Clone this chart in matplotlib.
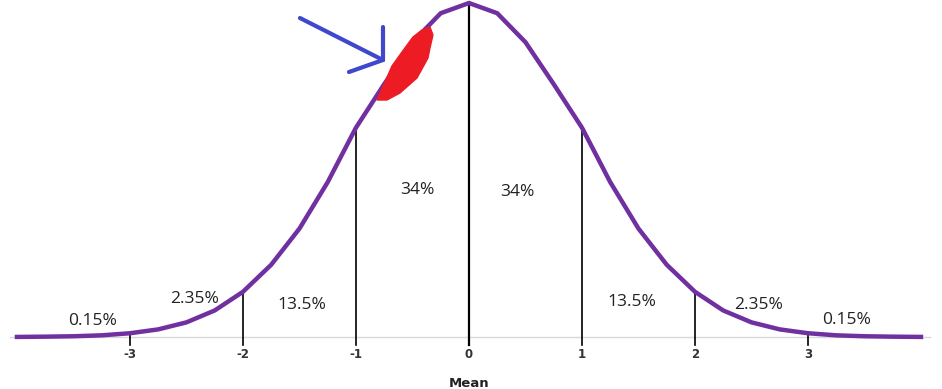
import numpy as np
import matplotlib.pyplot as plt
from matplotlib.patches import Polygon

# curve points (step 0.25 sd)
z = [-4, -3.75, -3.5, -3.25, -3, -2.75, -2.5, -2.25, -2, -1.75, -1.5, -1.25, -1,
     -0.75, -0.5, -0.25, 0, 0.25, 0.5, 0.75, 1, 1.25, 1.5, 1.75, 2,
     2.25, 2.5, 2.75, 3, 3.25, 3.5, 3.75, 4]
dens = [0.0001, 0.0004, 0.0009, 0.002, 0.0045, 0.0091, 0.0175, 0.0317, 0.054,
        0.0863, 0.1295, 0.1850, 0.250, 0.3020, 0.3521, 0.3867, 0.3989,
        0.3867, 0.3521, 0.3020, 0.250, 0.1850, 0.1295, 0.0863, 0.054,
        0.0317, 0.0175, 0.0091, 0.0045, 0.002, 0.0009, 0.0004, 0.0001]

ticks = [-3, -2, -1, 0, 1, 2, 3]
tick_labels = ['-3', '-2', '-1', '0', '1', '2', '3']

pct_labels = ['0.15%', '2.35%', '13.5%', '34%', '34%', '13.5%', '2.35%', '0.15%']
pct_x = [-3.33, -2.43, -1.48, -0.46, 0.43, 1.44, 2.56, 3.34]
pct_y = [0.0195, 0.0455, 0.0385, 0.176, 0.173, 0.042, 0.0385, 0.0205]

PURPLE = '#7030A0'
BLUE = '#3F48CC'
RED = '#ED1C24'

fig = plt.figure(figsize=(9.42, 3.89), dpi=100)
ax = fig.add_axes([0, 0, 1, 1])
ax.set_xlim(-4.15, 4.186)
ax.set_ylim(-0.0621, 0.4025)
ax.axis('off')


def px(x, y):
    # pixel position in the picture -> data coords
    return ((x - 469) / 113.0, (337 - y) / 837.3)


# light baseline
x0, _ = px(10, 0)
x1, _ = px(930, 0)
ax.plot([x0, x1], [0, 0], color='#D9D9D9', lw=1, zorder=1)

# vertical lines from the curve down
for t in ticks:
    h = dens[z.index(t)]
    ax.plot([t, t], [-0.0096, h], color='black', lw=1.6 if t == 0 else 1.2, zorder=2)

ax.plot(z, dens, color=PURPLE, lw=3.2, solid_joinstyle='miter', zorder=3)

for t, lab in zip(ticks, tick_labels):
    ax.text(t, -0.021, lab, ha='center', va='center', fontsize=8.5,
            fontweight='bold', color='#333333', family='DejaVu Sans')

for xx, yy, lab in zip(pct_x, pct_y, pct_labels):
    ax.text(xx, yy, lab, ha='center', va='center', fontsize=12.5,
            color='#222222', family='Open Sans')

ax.text(0, px(0, 377)[1], 'Mean', ha='center', va='top', fontsize=9.5,
        fontweight='bold', color='#222222')

# hand drawn arrow
tail = px(300, 18)
tip = px(383, 60)
h1 = px(383, 27)
h2 = px(349, 72)
for a, b in [(tail, tip), (h1, tip), (h2, tip)]:
    ax.plot([a[0], b[0]], [a[1], b[1]], color=BLUE, lw=3, solid_capstyle='round', zorder=5)

# red scribble
scribble = [px(377, 100), px(385, 82), px(392, 66), px(402, 52), px(413, 37),
            px(422, 30), px(430, 27), px(433, 35), px(430, 48), px(428, 58),
            px(417, 78), px(400, 93), px(387, 100)]
ax.add_patch(Polygon(scribble, closed=True, facecolor=RED, edgecolor=RED, lw=1, zorder=4))

fig.savefig('out.png', dpi=100)
